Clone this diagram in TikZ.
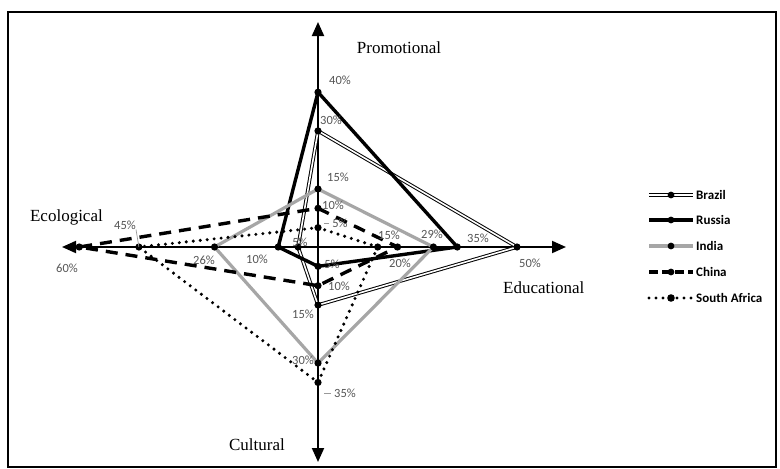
\documentclass[tikz,border=0pt]{standalone}
\usepackage{fontspec}
\setmainfont{Liberation Serif}
\newfontfamily\calib{Carlito}
\usetikzlibrary{arrows.meta}
\definecolor{labgray}{RGB}{85,85,85}
\definecolor{indiagray}{RGB}{166,166,166}
\tikzset{
  axisline/.style={line width=2pt, {Triangle[length=14pt,width=12pt]}-{Triangle[length=14pt,width=12pt]}},
  axistext/.style={font=\fontsize{17}{17}\selectfont, inner sep=0pt},
  pct/.style={font=\calib\fontsize{12.5}{12.5}\selectfont, text=labgray, inner sep=0pt},
  leader/.style={draw=labgray!60, line width=0.7pt},
  brazil/.style={draw=black, line width=1pt, double=white, double distance=1.6pt},
  russia/.style={draw=black, line width=3.4pt, line join=round},
  india/.style={draw=indiagray, line width=3.2pt, line join=round},
  china/.style={draw=black, line width=3.4pt, dash pattern=on 12pt off 8pt},
  safrica/.style={draw=black, line width=3.4pt, line cap=round, dash pattern=on 0pt off 7pt},
  legtext/.style={font=\calib\bfseries\fontsize{13}{13}\selectfont, anchor=west, inner sep=0pt},
}
\begin{document}
\begin{tikzpicture}[x=1pt,y=-1pt]
\useasboundingbox (0,0) rectangle (780,469);
\fill[white] (0,0) rectangle (780,469);
\draw[line width=2.2pt] (8,12) rectangle (776,467);

% origin and axis ends
\coordinate (O) at (318,247);
\coordinate (axT) at (318,22);
\coordinate (axB) at (318,462);
\coordinate (axL) at (62,247);
\coordinate (axR) at (566,247);
\draw[axisline] (axL) -- (axR);
\draw[axisline] (axT) -- (axB);

% axis titles
\node[axistext] (tPro) at (399,48) {Promotional};
\node[axistext, anchor=east] (tEco) at (103,217) {Ecological};
\node[axistext, anchor=west] (tEdu) at (503,288) {Educational};
\node[axistext, anchor=east] (tCul) at (285,445) {Cultural};

% data points: x = 318 +- 3.98 per %, y = 247 -+ 3.87 per %
% Brazil
\coordinate (bP) at (318,{247-30*3.87});
\coordinate (bE) at ({318+50*3.98},247);
\coordinate (bC) at (318,{247+15*3.87});
\coordinate (bL) at ({318-5*3.98},247);
% Russia
\coordinate (rP) at (318,{247-40*3.87});
\coordinate (rE) at ({318+35*3.98},247);
\coordinate (rC) at (318,{247+5*3.87});
\coordinate (rL) at ({318-10*3.98},247);
% India
\coordinate (iP) at (318,{247-15*3.87});
\coordinate (iE) at ({318+29*3.98},247);
\coordinate (iC) at (318,{247+30*3.87});
\coordinate (iL) at ({318-26*3.98},247);
% China
\coordinate (cP) at (318,{247-10*3.87});
\coordinate (cE) at ({318+20*3.98},247);
\coordinate (cC) at (318,{247+10*3.87});
\coordinate (cL) at ({318-60*3.98},247);
% South Africa
\coordinate (sP) at (318,{247-5*3.87});
\coordinate (sE) at ({318+15*3.98},247);
\coordinate (sC) at (318,{247+35*3.87});
\coordinate (sL) at ({318-45*3.98},247);

% series outlines
\draw[brazil] (bP) -- (bE) -- (bC) -- (bL) -- cycle;
\draw[russia] (rP) -- (rE) -- (rC) -- (rL) -- cycle;
\draw[india] (iP) -- (iE) -- (iC) -- (iL) -- cycle;
\draw[china] (cP) -- (cE) -- (cC) -- (cL) -- cycle;
\draw[safrica] (sP) -- (sE) -- (sC) -- (sL) -- cycle;

% markers
\foreach \p in {bP,bE,bC,bL,rP,rE,rC,rL,iP,iE,iC,iL,cP,cE,cC,cL,sP,sE,sC,sL}
  \fill (\p) circle (3.6pt);

% value labels
\node[pct] (v40) at (340,80) {40\%};
\node[pct] (v30) at (331,120) {30\%};
\node[pct] (v15t) at (338,177) {15\%};
\node[pct] (v10t) at (333,205) {10\%};
\node[pct] (v5t) at (340,223) {5\%};
\node[pct] (v15r) at (389,235) {15\%};
\node[pct] (v20r) at (400,263) {20\%};
\node[pct] (v29) at (432,234) {29\%};
\node[pct] (v35r) at (478,238) {35\%};
\node[pct] (v50) at (530,263) {50\%};
\node[pct] (v5b) at (332,264) {5\%};
\node[pct] (v10b) at (339,286) {10\%};
\node[pct] (v15b) at (303,314) {15\%};
\node[pct] (v30b) at (303,360) {30\%};
\node[pct] (v35b) at (345,393) {35\%};
\node[pct] (v5l) at (300,242) {5\%};
\node[pct] (v10l) at (257,259) {10\%};
\node[pct] (v26) at (204,260) {26\%};
\node[pct] (v45) at (125,225) {45\%};
\node[pct] (v60) at (67,268) {60\%};

% label leaders
\draw[leader] (v35b.west) ++(-3,0) -- ++(-7,0);
\draw[leader] (v5t.west) ++(-3,0) -- ++(-5,0);
\draw[leader] (v45.south east) -- (sL);

% legend
\draw[brazil] (649,195) -- (693,195);
\fill (671,195) circle (3.4pt);
\node[legtext] (lgB) at (696,195) {Brazil};
\draw[russia] (649,220) -- (693,220);
\fill (671,220) circle (3.4pt);
\node[legtext] (lgR) at (696,220) {Russia};
\draw[india] (649,246) -- (693,246);
\fill (671,246) circle (3.4pt);
\node[legtext] (lgI) at (696,246) {India};
\draw[china, dash pattern=on 9pt off 4pt] (649,272) -- (693,272);
\fill (671,272) circle (3.4pt);
\node[legtext] (lgC) at (696,272) {China};
\draw[safrica] (649,298) -- (693,298);
\fill (671,298) circle (3.8pt);
\node[legtext] (lgS) at (696,298) {South Africa};
\end{tikzpicture}
\end{document}
